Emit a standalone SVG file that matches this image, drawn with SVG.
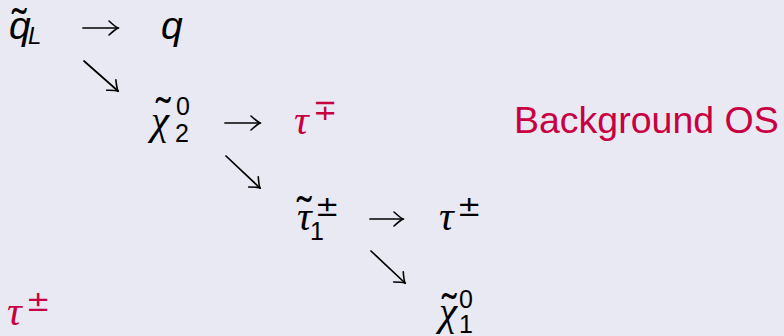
<svg xmlns="http://www.w3.org/2000/svg" width="784" height="336" viewBox="0 0 784 336">
<style>
.m{font-family:"Liberation Sans",Arial,sans-serif;font-style:italic;font-size:39px;fill:#000}
.ms{font-family:"Liberation Sans",Arial,sans-serif;font-style:italic;font-size:24px;fill:#000}
.g{font-family:"Liberation Serif","Times New Roman",serif;font-style:italic;font-size:41px;fill:#000}
.d{font-family:"Liberation Sans",Arial,sans-serif;font-size:25px;fill:#000}
.pm{font-family:"DejaVu Sans",sans-serif;font-size:29px;fill:#000}
.tl{font-family:"Liberation Sans",Arial,sans-serif;font-size:44px;fill:#000}
.red{fill:#c80041}
.lbl{font-family:"Liberation Sans",Arial,sans-serif;font-size:37.5px;fill:#c80041}
.arr{stroke:#000;stroke-width:1.7;fill:none;stroke-linecap:round;marker-end:url(#head)}
</style>
<defs>
<marker id="head" markerUnits="userSpaceOnUse" viewBox="-11 -9 13 18" refX="0" refY="0" markerWidth="13" markerHeight="18" orient="auto">
<path d="M-9,-7 Q-3,-1.5 0,0 Q-3,1.5 -9,7" fill="none" stroke="#000" stroke-width="1.6" stroke-linecap="round"/>
</marker>
</defs>
<rect width="784" height="336" fill="#e9e9f3"/>
<g id="connectors">
<path class="arr" d="M83,28 L118,28"/>
<path class="arr" d="M225,123 L260,123"/>
<path class="arr" d="M370,219 L403,219"/>
<path class="arr" d="M84,61 L118,91"/>
<path class="arr" d="M226,156 L260,188"/>
<path class="arr" d="M371,251 L405,283"/>
</g>
<g id="squark">
<text class="m" x="9" y="39">q</text>
<text class="tl" x="12" y="40">˜</text>
<text class="ms" x="28" y="44">L</text>
</g>
<g id="quark">
<text class="m" x="161" y="39">q</text>
</g>
<g id="neutralino2">
<text class="g" x="151" y="134">χ</text>
<text class="tl" x="156" y="129">˜</text>
<text class="d" x="176" y="115">0</text>
<text class="d" x="175" y="142">2</text>
</g>
<g id="tau1">
<text class="g red" x="294" y="134">τ</text>
<text class="pm red" x="313" y="120">∓</text>
</g>
<g id="stau">
<text class="g" x="297" y="230">τ</text>
<text class="tl" x="297" y="228">˜</text>
<text class="pm" x="315" y="216">±</text>
<text class="d" x="310" y="240">1</text>
</g>
<g id="tau2">
<text class="g" x="439" y="230">τ</text>
<text class="pm" x="457" y="216">±</text>
</g>
<g id="neutralino1">
<text class="g" x="439" y="325">χ</text>
<text class="tl" x="442" y="325">˜</text>
<text class="d" x="459" y="308">0</text>
<text class="d" x="459" y="333">1</text>
</g>
<g id="tau3">
<text class="g red" x="7" y="325">τ</text>
<text class="pm red" x="26" y="311">±</text>
</g>
<g id="label">
<text class="lbl" x="514" y="133">Background OS</text>
</g>
</svg>
